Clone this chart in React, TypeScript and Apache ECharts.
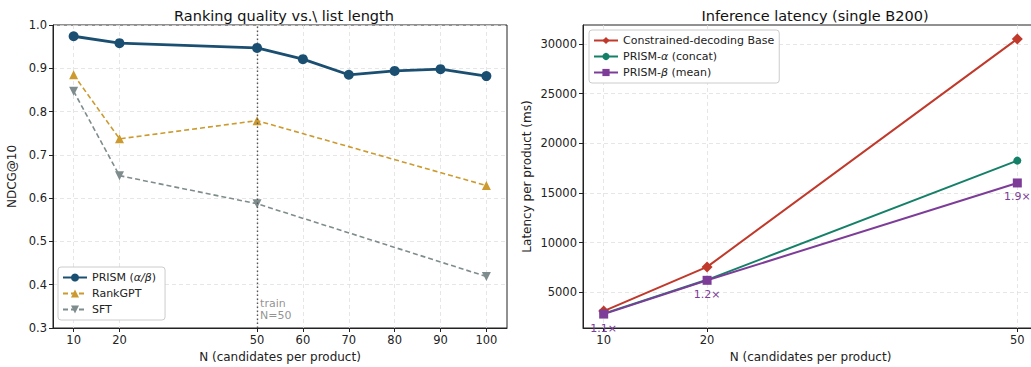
import React, { useEffect, useRef } from "react";
import * as echarts from "echarts";

const leftN = [10, 20, 50, 60, 70, 80, 90, 100];
const prismNdcg = [0.974, 0.958, 0.947, 0.921, 0.885, 0.894, 0.898, 0.882];
const rankN = [10, 20, 50, 100];
const rankGptNdcg = [0.885, 0.737, 0.779, 0.629];
const sftNdcg = [0.847, 0.652, 0.587, 0.419];
const leftXTicks = [10, 20, 50, 60, 70, 80, 90, 100];

const rightN = [10, 20, 50];
const constrainedMs = [3100, 7550, 30500];
const alphaMs = [2850, 6250, 18250];
const betaMs = [2800, 6200, 16000];
const speedupLabels = ["1.1×", "1.2×", "1.9×"];
const rightYTicks = [5000, 10000, 15000, 20000, 25000, 30000];

const FONT = "DejaVu Sans";

export default function App() {
  const ref = useRef<HTMLDivElement>(null);
  useEffect(() => {
    if (!ref.current) return;
    const chart = echarts.init(ref.current, null, { renderer: "svg" });
    const gridLine = { show: true, lineStyle: { color: "#e0e0e0", type: [4, 3], width: 0.8 } };
    const axisLbl = { color: "#222", fontSize: 11.5, fontFamily: FONT };
    const nameStyle = { fontSize: 12, color: "#222", fontFamily: FONT };
    const pair = (xs: number[], ys: number[]) => xs.map((x, i) => [x, ys[i]]);
    chart.setOption({
      animation: false,
      textStyle: { fontFamily: FONT },
      title: [
        { text: "Ranking quality vs.\\ list length", left: 279, top: 3, textAlign: "center",
          textStyle: { fontSize: 14.5, fontWeight: "normal", color: "#111", fontFamily: FONT } },
        { text: "Inference latency (single B200)", left: 810, top: 3, textAlign: "center",
          textStyle: { fontSize: 14.5, fontWeight: "normal", color: "#111", fontFamily: FONT } },
      ],
      grid: [
        { left: 53, top: 25, width: 454, bottom: 39, show: true, borderColor: "#222", borderWidth: 1, containLabel: false, outerBoundsMode: "none" },
        { left: 583, top: 25, width: 455, bottom: 39, show: true, borderColor: "#222", borderWidth: 1, containLabel: false, outerBoundsMode: "none" },
      ],
      legend: [
        { left: 58, top: 267, orient: "vertical", itemGap: 5, itemWidth: 24, itemHeight: 10,
          backgroundColor: "#fff", borderColor: "#ccc", borderWidth: 1, borderRadius: 3, padding: [5, 9, 5, 4],
          data: ["PRISM (α/β)", "RankGPT", "SFT"],
          formatter: (n: string) => n === "PRISM (α/β)" ? "PRISM ({i|α/β})" : n,
          textStyle: { fontSize: 11, color: "#222", fontFamily: FONT, rich: { i: { fontStyle: "italic", fontSize: 11, fontFamily: FONT } } } },
        { left: 589, top: 30, orient: "vertical", itemGap: 5, itemWidth: 24, itemHeight: 9,
          backgroundColor: "#fff", borderColor: "#ccc", borderWidth: 1, borderRadius: 3, padding: [5, 5, 5, 4],
          data: ["Constrained-decoding Base", "PRISM-α (concat)", "PRISM-β (mean)"],
          formatter: (n: string) => n === "PRISM-α (concat)" ? "PRISM-{i|α} (concat)" : n === "PRISM-β (mean)" ? "PRISM-{i|β} (mean)" : n,
          textStyle: { fontSize: 11, color: "#222", fontFamily: FONT, rich: { i: { fontStyle: "italic", fontSize: 11, fontFamily: FONT } } } },
      ],
      xAxis: [
        { type: "value", gridIndex: 0, min: 5.5, max: 104.5,
          name: "N (candidates per product)", nameLocation: "middle", nameGap: 23, nameTextStyle: nameStyle,
          axisLine: { show: true, lineStyle: { color: "#222" } },
          axisTick: { show: true, length: 4, customValues: leftXTicks, lineStyle: { color: "#222" } },
          axisLabel: { ...axisLbl, margin: 6, customValues: leftXTicks },
          splitLine: gridLine },
        { type: "value", gridIndex: 1, min: 8, max: 52,
          name: "N (candidates per product)", nameLocation: "middle", nameGap: 23, nameTextStyle: nameStyle,
          axisLine: { show: true, lineStyle: { color: "#222" } },
          axisTick: { show: true, length: 4, customValues: rightN, lineStyle: { color: "#222" } },
          axisLabel: { ...axisLbl, margin: 6, customValues: rightN },
          splitLine: gridLine },
      ],
      yAxis: [
        { type: "value", gridIndex: 0, min: 0.3, max: 1.0, interval: 0.1,
          name: "NDCG@10", nameLocation: "middle", nameGap: 35, nameTextStyle: nameStyle,
          axisLine: { show: true, lineStyle: { color: "#222" } },
          axisTick: { show: true, length: 4, lineStyle: { color: "#222" } },
          axisLabel: { ...axisLbl, margin: 6, formatter: (v: number) => v.toFixed(1) },
          splitLine: gridLine },
        { type: "value", gridIndex: 1, min: 1400, max: 31900,
          name: "Latency per product (ms)", nameLocation: "middle", nameGap: 50, nameTextStyle: nameStyle,
          axisLine: { show: true, lineStyle: { color: "#222" } },
          axisTick: { show: true, length: 4, customValues: rightYTicks, lineStyle: { color: "#222" } },
          axisLabel: { ...axisLbl, margin: 6, customValues: rightYTicks, formatter: (v: number) => String(v) },
          splitLine: gridLine },
      ],
      series: [
        { name: "PRISM (α/β)", type: "line", xAxisIndex: 0, yAxisIndex: 0, data: pair(leftN, prismNdcg),
          color: "#1b4f72", symbol: "circle", symbolSize: 10, lineStyle: { width: 2.8, color: "#1b4f72" },
          itemStyle: { color: "#1b4f72" }, z: 5,
          markLine: { silent: true, symbol: "none", label: { show: false },
            lineStyle: { type: [1.5, 2.5], color: "#555", width: 1.4 }, data: [{ xAxis: 50 }] } },
        { name: "RankGPT", type: "line", xAxisIndex: 0, yAxisIndex: 0, data: pair(rankN, rankGptNdcg),
          color: "#cc9a2e", symbol: "triangle", symbolSize: 9, lineStyle: { width: 1.6, type: [5, 3], color: "#cc9a2e" },
          itemStyle: { color: "#cc9a2e" } },
        { name: "SFT", type: "line", xAxisIndex: 0, yAxisIndex: 0, data: pair(rankN, sftNdcg),
          color: "#7f8c8d", symbol: "triangle", symbolRotate: 180, symbolSize: 9, lineStyle: { width: 1.6, type: [5, 3], color: "#7f8c8d" },
          itemStyle: { color: "#7f8c8d" } },
        { name: "trainNote", type: "scatter", xAxisIndex: 0, yAxisIndex: 0, data: [[50, 0.342]], symbolSize: 0,
          silent: true, label: { show: true, position: "right", distance: 3, formatter: "train\nN=50",
            color: "#777", fontSize: 11, lineHeight: 12, fontFamily: FONT, align: "left" } },
        { name: "Constrained-decoding Base", type: "line", xAxisIndex: 1, yAxisIndex: 1, data: pair(rightN, constrainedMs),
          color: "#c0392b", symbol: "diamond", symbolSize: 11, lineStyle: { width: 2, color: "#c0392b" },
          itemStyle: { color: "#c0392b" } },
        { name: "PRISM-α (concat)", type: "line", xAxisIndex: 1, yAxisIndex: 1, data: pair(rightN, alphaMs),
          color: "#148068", symbol: "circle", symbolSize: 8, lineStyle: { width: 2, color: "#148068" },
          itemStyle: { color: "#148068" } },
        { name: "PRISM-β (mean)", type: "line", xAxisIndex: 1, yAxisIndex: 1, data: pair(rightN, betaMs),
          color: "#7d3c98", symbol: "rect", symbolSize: 9, lineStyle: { width: 2, color: "#7d3c98" },
          itemStyle: { color: "#7d3c98" }, z: 4,
          label: { show: true, position: "bottom", distance: 4, color: "#7d3c98", fontSize: 11, fontFamily: FONT,
            formatter: (p: any) => speedupLabels[p.dataIndex] } },
      ],
    });
    return () => chart.dispose();
  }, []);
  return <div ref={ref} style={{ width: 1031, height: 367, position: "absolute", left: 0, top: 0 }} />;
}
